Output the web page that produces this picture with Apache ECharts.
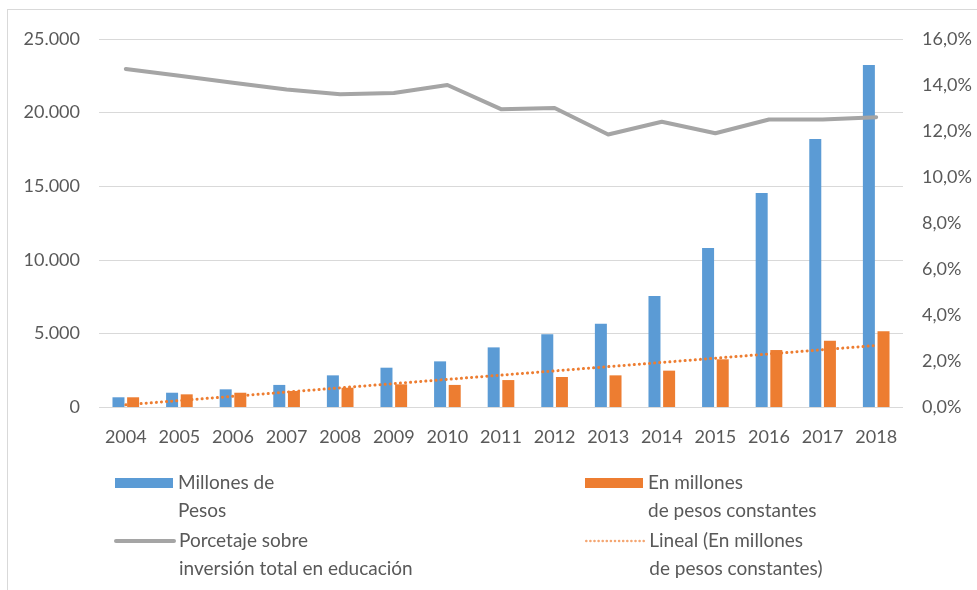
<!DOCTYPE html>
<html>
<head>
<meta charset="utf-8">
<script src="https://cdn.jsdelivr.net/npm/echarts@6/dist/echarts.min.js"></script>
<style>
  html, body { margin: 0; padding: 0; background: #fff; }
  #frame { position: absolute; left: 7px; top: 9px; width: 1000px; height: 600px; border-left: 1px solid #d9d9d9; border-top: 1px solid #d9d9d9; }
  #chart { position: absolute; left: 0; top: 0; width: 977px; height: 590px; }
</style>
</head>
<body>
<div id="frame"></div>
<div id="chart"></div>
<script>
const years = ['2004', '2005', '2006', '2007', '2008', '2009', '2010', '2011', '2012', '2013', '2014', '2015', '2016', '2017', '2018']
const millonesPesos = [660, 970, 1200, 1500, 2150, 2670, 3100, 4050, 4940, 5660, 7540, 10800, 14540, 18200, 23230]
const pesosConstantes = [660, 860, 970, 1090, 1310, 1540, 1500, 1830, 2040, 2150, 2470, 3240, 3870, 4500, 5140]
const porcentaje = [14.7, 14.4, 14.1, 13.8, 13.6, 13.65, 14.0, 12.95, 13.0, 11.85, 12.4, 11.9, 12.5, 12.5, 12.6]
// linea de tendencia (extremos)
const tendencia = [150, null, null, null, null, null, null, null, null, null, null, null, null, null, 4180]

const names = {
  pesos: 'Millones de Pesos',
  constantes: 'En millones de pesos constantes',
  porc: 'Porcetaje sobre inversión total en educación',
  lineal: 'Lineal (En millones de pesos constantes)',
}
const legendLines = {
  [names.pesos]: ['Millones de', 'Pesos'],
  [names.constantes]: ['En millones', 'de pesos constantes'],
  [names.porc]: ['Porcetaje sobre', 'inversión total en educación'],
  [names.lineal]: ['Lineal (En millones', 'de pesos constantes)'],
}

const FONT = 'Lato'
const TXT = '#595959'

function legendAt(name, left, top) {
  return {
    data: [name],
    left: left,
    top: top,
    padding: 0,
    itemWidth: 58,
    itemHeight: 10,
    selectedMode: false,
    formatter: (n) => ' \n' + legendLines[n].join('\n'),
    textStyle: { color: TXT, fontSize: 19, fontFamily: FONT, lineHeight: 28 },
  }
}

const chart = echarts.init(document.getElementById('chart'), null, { renderer: 'canvas' })

chart.setOption({
  animation: false,
  textStyle: { fontFamily: FONT },
  grid: { left: 99, right: 74, top: 39, bottom: 183 },
  legend: [
    Object.assign(legendAt(names.pesos, 115, 441), { icon: 'rect' }),
    Object.assign(legendAt(names.constantes, 585, 441), { icon: 'rect' }),
    Object.assign(legendAt(names.porc, 114, 499), {
      itemStyle: { opacity: 0 },
      lineStyle: { width: 4, color: '#A5A5A5', cap: 'round' },
    }),
    Object.assign(legendAt(names.lineal, 585, 499), {
      itemStyle: { opacity: 0 },
      lineStyle: { width: 2.5, color: '#F4A672', type: [0.1, 4], cap: 'round' },
    }),
  ],
  xAxis: {
    type: 'category',
    data: years,
    axisLine: { show: false },
    axisTick: { show: false },
    axisLabel: { color: TXT, fontSize: 18, fontFamily: FONT, margin: 21, interval: 0 },
  },
  yAxis: [
    {
      type: 'value',
      min: 0,
      max: 25000,
      interval: 5000,
      axisLine: { show: false },
      axisTick: { show: false },
      splitLine: { lineStyle: { color: '#d9d9d9', width: 1 } },
      axisLabel: {
        color: TXT,
        fontSize: 18,
        fontFamily: FONT,
        margin: 19,
        formatter: (v) => v === 0 ? '0' : String(v).replace(/\B(?=(\d{3})+(?!\d))/g, '.'),
      },
    },
    {
      type: 'value',
      min: 0,
      max: 16,
      interval: 2,
      axisLine: { show: false },
      axisTick: { show: false },
      splitLine: { show: false },
      axisLabel: {
        color: TXT,
        fontSize: 18,
        fontFamily: FONT,
        margin: 19,
        formatter: (v) => v.toFixed(1).replace('.', ',') + '%',
      },
    },
  ],
  series: [
    {
      name: names.pesos,
      type: 'bar',
      data: millonesPesos,
      barWidth: 12,
      barGap: '22%',
      itemStyle: { color: '#5B9BD5' },
    },
    {
      name: names.constantes,
      type: 'bar',
      data: pesosConstantes,
      barWidth: 12,
      itemStyle: { color: '#ED7D31' },
    },
    {
      name: names.lineal,
      type: 'line',
      data: tendencia,
      connectNulls: true,
      symbol: 'none',
      lineStyle: { color: '#ED7D31', width: 3, type: [0.1, 5], cap: 'round' },
      itemStyle: { color: '#ED7D31' },
      z: 3,
    },
    {
      name: names.porc,
      type: 'line',
      yAxisIndex: 1,
      data: porcentaje,
      symbol: 'none',
      lineStyle: { color: '#A5A5A5', width: 4, cap: 'round', join: 'round' },
      itemStyle: { color: '#A5A5A5' },
      z: 4,
    },
  ],
})

window.addEventListener('resize', () => chart.resize())
</script>
</body>
</html>
